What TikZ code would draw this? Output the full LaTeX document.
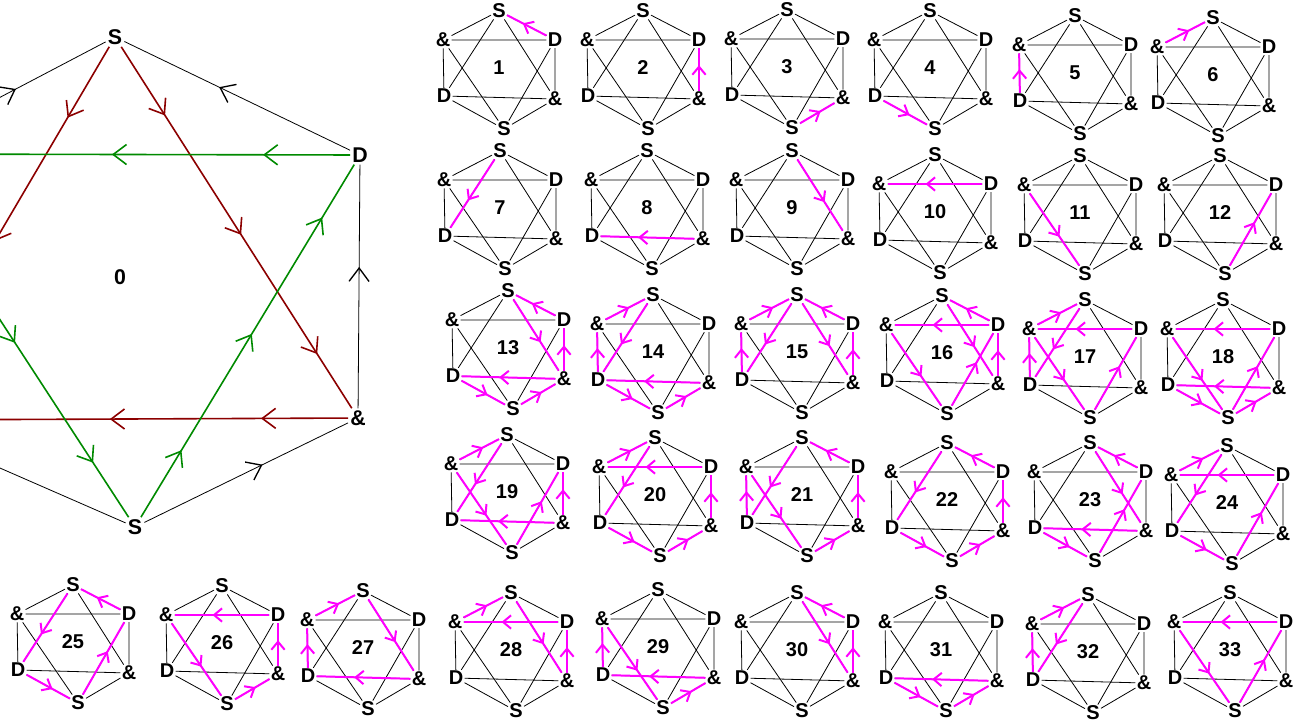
\documentclass[tikz,border=0pt]{standalone}
\usepackage{fontspec}
\setmainfont{Liberation Sans}
\usetikzlibrary{arrows.meta,decorations.markings}
\definecolor{triRed}{HTML}{8C0000}
\definecolor{triGreen}{HTML}{008A00}
\definecolor{walkPink}{HTML}{FF00FF}
\newcommand{\labfont}{\fontsize{15}{16}\selectfont\bfseries}
\newcommand{\bigfont}{\fontsize{16}{17}\selectfont\bfseries}

% one small hexagram: number, centre x, centre y
\newcommand{\hexa}[3]{%
  \begin{scope}[shift={(#2,#3)}]
    \node[num] (h#1)   at (0,0)     {#1};
    \node[lab] (h#1t)  at (0,-57)   {S};
    \node[lab] (h#1ur) at (56,-28)  {D};
    \node[lab] (h#1lr) at (56,31)   {\&};
    \node[lab] (h#1b)  at (5,61)    {S};
    \node[lab] (h#1ll) at (-55,28)  {D};
    \node[lab] (h#1ul) at (-56,-28) {\&};
  \end{scope}
  \draw[hexline] (h#1t) -- (h#1ur) -- (h#1lr) -- (h#1b) -- (h#1ll) -- (h#1ul) -- (h#1t);
  \draw[hexline] (h#1t) -- (h#1lr) -- (h#1ll) -- (h#1t);
  \draw[hexline] (h#1ul) -- (h#1ur) -- (h#1b) -- (h#1ul);
}
% magenta edges of one hexagram
\newcommand{\walk}[2]{\foreach \src/\dst in {#2} \draw[pinkedge] (h#1\src) -- (h#1\dst);}

\begin{document}
\begin{tikzpicture}[x=0.75pt, y=-0.75pt,
  lab/.style={font=\labfont, inner sep=0.8pt},
  num/.style={font=\labfont},
  big/.style={font=\bigfont, inner sep=1.5pt},
  hexline/.style={black, line width=0.6pt},
  smalltip/.tip={Straight Barb[length=6pt,width=10pt]},
  bigtip/.tip={Straight Barb[length=10pt,width=15pt]},
  pinkedge/.style={walkPink, line width=1.5pt, postaction={decorate, decoration={markings,
    mark=at position 0.6 with {\arrow{smalltip}}}}},
  bigside/.style={black, line width=0.6pt},
  midbarb/.style={postaction={decorate, decoration={markings,
    mark=at position 0.58 with {\arrow[line width=1pt]{bigtip}}}}},
  threebarb/.style={line width=1.2pt, postaction={decorate, decoration={markings,
    mark=at position 0.19 with {\arrow{bigtip}},
    mark=at position 0.52 with {\arrow{bigtip}},
    mark=at position 0.85 with {\arrow{bigtip}}}}}]
\useasboundingbox (0,0) rectangle (1298,722);
\clip (0,0) rectangle (1298,722);
\fill[white] (0,0) rectangle (1298,722);

% the big hexagram 0, its left corners lie outside the picture
\node[big] (g0)  at (120,277)  {0};
\node[big] (gt)  at (115,37)   {S};
\node[big] (gur) at (360,155)  {D};
\node[big] (glr) at (358,418)  {\&};
\node[big] (gb)  at (135,527)  {S};
\coordinate (gll) at (-110,420);
\coordinate (gul) at (-108,154);
\draw[bigside, midbarb] (gur) -- (gt);
\draw[bigside, midbarb] (glr) -- (gur);
\draw[bigside, midbarb] (gb) -- (glr);
\draw[bigside] (gll) -- (gb);
\draw[bigside, midbarb] (gll) -- (gul);
\draw[bigside, midbarb] (gul) -- (gt);
\draw[triRed, threebarb] (gt) -- (glr);
\draw[triRed, threebarb] (glr) -- (gll);
\draw[triRed, threebarb] (gt) -- (gll);
\draw[triGreen, threebarb] (gur) -- (gul);
\draw[triGreen, threebarb] (gul) -- (gb);
\draw[triGreen, threebarb] (gb) -- (gur);

% row 1
\hexa{1}{499}{68}   \walk{1}{ur/t}
\hexa{2}{643}{68}   \walk{2}{lr/ur}
\hexa{3}{787}{67}   \walk{3}{b/lr}
\hexa{4}{930}{68}   \walk{4}{ll/b}
\hexa{5}{1075}{73}  \walk{5}{ll/ul}
\hexa{6}{1213}{75}  \walk{6}{ul/t}
% row 2
\hexa{7}{500}{208}  \walk{7}{t/ll}
\hexa{8}{647}{208}  \walk{8}{lr/ll}
\hexa{9}{792}{208}  \walk{9}{t/lr}
\hexa{10}{935}{212} \walk{10}{ur/ul}
\hexa{11}{1080}{213} \walk{11}{ul/b}
\hexa{12}{1220}{213} \walk{12}{b/ur}
% row 3
\hexa{13}{508}{348} \walk{13}{ur/t, t/lr, lr/ur, lr/ll, ll/b, b/lr}
\hexa{14}{653}{352} \walk{14}{ul/t, t/ll, ll/ul, lr/ll, ll/b, b/lr}
\hexa{15}{797}{352} \walk{15}{ul/t, t/ll, ll/ul, ur/t, t/lr, lr/ur}
\hexa{16}{942}{353} \walk{16}{ur/t, ur/ul, t/lr, lr/ur, ul/b, b/ur}
\hexa{17}{1085}{357} \walk{17}{ul/t, ur/ul, t/ll, ll/ul, ul/b, b/ur}
\hexa{18}{1223}{357} \walk{18}{ur/ul, ul/b, lr/ll, ll/b, b/lr, b/ur}
% row 4
\hexa{19}{507}{492} \walk{19}{ul/t, t/ll, ul/b, lr/ll, b/ur, lr/ur}
\hexa{20}{655}{495} \walk{20}{ul/t, ur/ul, t/ll, ll/b, b/lr, lr/ur}
\hexa{21}{802}{495} \walk{21}{ur/t, t/ll, ll/ul, ul/b, b/lr, lr/ur}
\hexa{22}{947}{500} \walk{22}{ur/t, t/ll, ll/b, b/lr, lr/ur}
\hexa{23}{1090}{500} \walk{23}{ur/t, t/lr, lr/ll, ll/b, b/ur}
\hexa{24}{1227}{503} \walk{24}{ul/t, ur/ul, t/ll, ll/b, b/ur}
% row 5
\hexa{25}{73}{642}  \walk{25}{ur/t, t/ll, ll/b, b/ur}
\hexa{26}{222}{643} \walk{26}{ur/ul, ul/b, b/lr, lr/ur}
\hexa{27}{363}{648} \walk{27}{ul/t, t/lr, lr/ll, ll/ul}
\hexa{28}{511}{650} \walk{28}{ul/t, ur/ul, t/lr, lr/ur}
\hexa{29}{658}{647} \walk{29}{ul/b, lr/ll, ll/ul, b/lr}
\hexa{30}{797}{650} \walk{30}{ur/t, t/lr, lr/ur}
\hexa{31}{941}{650} \walk{31}{lr/ll, ll/b, b/lr}
\hexa{32}{1088}{652} \walk{32}{ul/t, t/ll, ll/ul}
\hexa{33}{1230}{650} \walk{33}{ur/ul, ul/b, b/ur}
\end{tikzpicture}
\end{document}
